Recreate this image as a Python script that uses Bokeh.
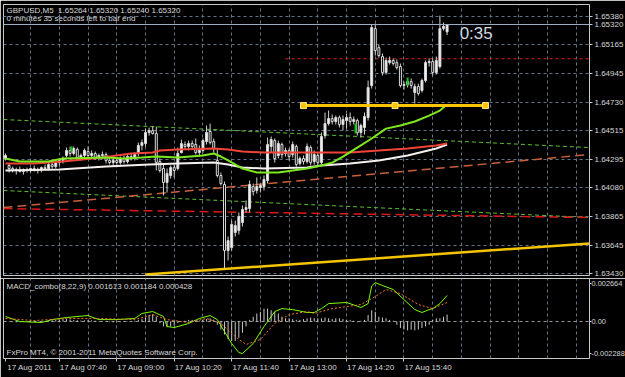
from bokeh.plotting import figure
from bokeh.models import Range1d, FixedTicker, Label, ColumnDataSource, PrintfTickFormatter, Span
from bokeh.layouts import column
from bokeh.embed import file_html
from bokeh.resources import INLINE

# ---------------- data ----------------
symbol = "GBPUSD,M5"
time_ticks = [0, 15, 31, 47, 63, 79, 95, 111]
time_labels = ["17 Aug 2011", "17 Aug 07:40", "17 Aug 09:00", "17 Aug 10:20",
               "17 Aug 11:40", "17 Aug 13:00", "17 Aug 14:20", "17 Aug 15:40"]
price_ticks = [1.63430, 1.63645, 1.63865, 1.64080, 1.64295, 1.64515, 1.64730, 1.64945, 1.65165, 1.65380]
macd_tick_pos = [0.00235, 0, -0.00198]
macd_tick_labels = ["0.002664", "0.00", "-0.002288"]

opens = [
    1.64303, 1.64250, 1.64227, 1.64212, 1.64219, 1.64204, 1.64219, 1.64212, 1.64227, 1.64212,
    1.64219, 1.64234, 1.64227, 1.64257, 1.64242, 1.64272, 1.64288, 1.64326, 1.64364, 1.64341,
    1.64371, 1.64310, 1.64326, 1.64356, 1.64326, 1.64341, 1.64310, 1.64326, 1.64333, 1.64288,
    1.64272, 1.64288, 1.64272, 1.64303, 1.64280, 1.64318, 1.64303, 1.64341, 1.64402, 1.64417,
    1.64500, 1.64515, 1.64493, 1.64280, 1.64227, 1.64121, 1.64174, 1.64234, 1.64227, 1.64348,
    1.64409, 1.64394, 1.64417, 1.64409, 1.64348, 1.64364, 1.64432, 1.64508, 1.64432, 1.64288,
    1.64174, 1.64106, 1.63605, 1.63627, 1.63741, 1.63756, 1.63817, 1.63916, 1.63923, 1.64090,
    1.64060, 1.64083, 1.64090, 1.64136, 1.64394, 1.64439, 1.64326, 1.64409, 1.64341, 1.64364,
    1.64333, 1.64394, 1.64265, 1.64303, 1.64280, 1.64386, 1.64280, 1.64326, 1.64272, 1.64477,
    1.64568, 1.64606, 1.64584, 1.64614, 1.64561, 1.64591, 1.64614, 1.64584, 1.64591, 1.64500,
    1.64538, 1.64614, 1.64857, 1.65289, 1.65145, 1.65077, 1.64956, 1.65031, 1.65047, 1.65031,
    1.65001, 1.64857, 1.64864, 1.64887, 1.64804, 1.64849, 1.64819, 1.64895, 1.65031, 1.65039,
    1.64956, 1.65001, 1.65289, 1.65264]
highs = [
    1.64341, 1.64265, 1.64242, 1.64234, 1.64242, 1.64227, 1.64234, 1.64234, 1.64250, 1.64234,
    1.64242, 1.64257, 1.64272, 1.64280, 1.64288, 1.64303, 1.64318, 1.64386, 1.64394, 1.64394,
    1.64386, 1.64341, 1.64379, 1.64394, 1.64364, 1.64356, 1.64341, 1.64356, 1.64348, 1.64310,
    1.64303, 1.64310, 1.64318, 1.64326, 1.64341, 1.64341, 1.64348, 1.64424, 1.64447, 1.64530,
    1.64538, 1.64546, 1.64546, 1.64303, 1.64265, 1.64227, 1.64250, 1.64257, 1.64386, 1.64447,
    1.64432, 1.64439, 1.64439, 1.64455, 1.64402, 1.64455, 1.64553, 1.64568, 1.64455, 1.64379,
    1.64197, 1.64128, 1.63711, 1.63832, 1.63832, 1.63893, 1.63946, 1.63984, 1.64136, 1.64113,
    1.64159, 1.64113, 1.64174, 1.64462, 1.64470, 1.64455, 1.64439, 1.64424, 1.64386, 1.64379,
    1.64432, 1.64409, 1.64318, 1.64326, 1.64417, 1.64402, 1.64364, 1.64341, 1.64500, 1.64652,
    1.64667, 1.64637, 1.64629, 1.64629, 1.64629, 1.64644, 1.64652, 1.64622, 1.64606, 1.64568,
    1.64652, 1.64895, 1.65320, 1.65327, 1.65168, 1.65100, 1.65069, 1.65077, 1.65062, 1.65054,
    1.65024, 1.64887, 1.64910, 1.64910, 1.64872, 1.64872, 1.64910, 1.65047, 1.65062, 1.65062,
    1.65077, 1.65388, 1.65335, 1.65320]
lows = [
    1.64288, 1.64197, 1.64197, 1.64181, 1.64197, 1.64181, 1.64197, 1.64197, 1.64204, 1.64189,
    1.64197, 1.64212, 1.64212, 1.64227, 1.64227, 1.64250, 1.64265, 1.64310, 1.64318, 1.64326,
    1.64303, 1.64288, 1.64310, 1.64310, 1.64303, 1.64295, 1.64288, 1.64303, 1.64265, 1.64257,
    1.64250, 1.64257, 1.64257, 1.64265, 1.64265, 1.64288, 1.64288, 1.64318, 1.64364, 1.64394,
    1.64477, 1.64485, 1.64212, 1.64197, 1.64022, 1.64045, 1.64151, 1.64159, 1.64212, 1.64341,
    1.64371, 1.64364, 1.64379, 1.64333, 1.64318, 1.64348, 1.64409, 1.64409, 1.64348, 1.64159,
    1.64098, 1.63468, 1.63529, 1.63605, 1.63711, 1.63726, 1.63787, 1.63893, 1.63893, 1.64022,
    1.64037, 1.64045, 1.64060, 1.64113, 1.64348, 1.64272, 1.64303, 1.64303, 1.64318, 1.64288,
    1.64310, 1.64242, 1.64250, 1.64257, 1.64265, 1.64250, 1.64257, 1.64250, 1.64250, 1.64455,
    1.64553, 1.64561, 1.64561, 1.64538, 1.64515, 1.64530, 1.64553, 1.64561, 1.64477, 1.64462,
    1.64485, 1.64591, 1.64834, 1.65085, 1.65069, 1.64933, 1.64940, 1.65016, 1.65009, 1.64978,
    1.64842, 1.64826, 1.64842, 1.64834, 1.64720, 1.64781, 1.64804, 1.64880, 1.65001, 1.64933,
    1.64940, 1.64986, 1.65274, 1.65240]
closes = [
    1.64326, 1.64227, 1.64212, 1.64219, 1.64204, 1.64219, 1.64212, 1.64227, 1.64212, 1.64219,
    1.64234, 1.64227, 1.64257, 1.64242, 1.64272, 1.64288, 1.64303, 1.64364, 1.64341, 1.64379,
    1.64310, 1.64326, 1.64364, 1.64326, 1.64341, 1.64310, 1.64326, 1.64333, 1.64288, 1.64272,
    1.64288, 1.64272, 1.64303, 1.64280, 1.64318, 1.64303, 1.64333, 1.64402, 1.64424, 1.64500,
    1.64515, 1.64493, 1.64272, 1.64212, 1.64121, 1.64189, 1.64234, 1.64212, 1.64341, 1.64417,
    1.64394, 1.64417, 1.64394, 1.64348, 1.64364, 1.64439, 1.64500, 1.64424, 1.64379, 1.64174,
    1.64113, 1.63605, 1.63680, 1.63802, 1.63794, 1.63863, 1.63916, 1.63931, 1.64106, 1.64052,
    1.64090, 1.64098, 1.64143, 1.64409, 1.64447, 1.64303, 1.64417, 1.64333, 1.64364, 1.64318,
    1.64409, 1.64257, 1.64303, 1.64280, 1.64394, 1.64272, 1.64333, 1.64272, 1.64470, 1.64568,
    1.64606, 1.64584, 1.64614, 1.64561, 1.64599, 1.64614, 1.64584, 1.64599, 1.64500, 1.64553,
    1.64622, 1.64842, 1.65297, 1.65123, 1.65085, 1.64956, 1.65047, 1.65047, 1.65024, 1.64993,
    1.64857, 1.64864, 1.64887, 1.64857, 1.64849, 1.64796, 1.64895, 1.65031, 1.65039, 1.64956,
    1.65047, 1.65289, 1.65305, 1.65320]

white_idx = [0, 15, 28, 40, 48, 58, 62, 66, 72, 84, 88, 96, 104, 112, 120, 123]
white_val = [1.64212, 1.64219, 1.64242, 1.64257, 1.64265, 1.64272, 1.64257, 1.64234, 1.64227,
             1.64234, 1.64250, 1.64265, 1.64288, 1.64326, 1.64379, 1.64409]
red_idx = [0, 8, 16, 27, 35, 41, 43, 48, 58, 62, 66, 72, 84, 96, 104, 112, 120, 123]
red_val = [1.64265, 1.64265, 1.64280, 1.64310, 1.64341, 1.64348, 1.64364, 1.64371, 1.64379,
           1.64371, 1.64356, 1.64348, 1.64348, 1.64348, 1.64364, 1.64379, 1.64402, 1.64417]
green_idx = [0, 4, 12, 16, 28, 33, 38, 42, 48, 55, 58, 60, 62, 66, 70, 76, 80, 84, 88, 91,
             94, 98, 102, 106, 110, 114, 118, 121, 123]
green_val = [1.64303, 1.64280, 1.64280, 1.64303, 1.64310, 1.64303, 1.64310, 1.64318, 1.64310,
             1.64326, 1.64341, 1.64318, 1.64288, 1.64227, 1.64197, 1.64197, 1.64212, 1.64227,
             1.64250, 1.64272, 1.64318, 1.64386, 1.64455, 1.64530, 1.64553, 1.64584, 1.64629,
             1.64667, 1.64713]

# trend lines / levels
edge_idx = [-0.56, 162.7]
green_dash_hi = [1.64599, 1.64386]
green_dash_lo = [1.64060, 1.63855]
red_dash_lo = [1.63923, 1.63855]
orange_dash = [1.63931, 1.64333]
yellow_trend_idx = [39, 162.7]
yellow_trend_val = [1.63422, 1.63658]
red_level_idx = [78, 162.7]
red_level_val = [1.65060, 1.65060]
yellow_level_idx = [83, 108.5, 133.7]
yellow_level_val = [1.64705, 1.64705, 1.64705]
arrow_idx = [18.4, 97.5, 112]
arrow_lo = [1.64356, 1.64493, 1.64857]
arrow_hi = [1.64394, 1.64568, 1.64918]
timer_text = "0:35"
timer_idx = 126.5
timer_price = 1.65252

# MACD panel
macd_idx = [0, 4, 10, 13, 17, 23, 26, 31, 36, 38, 41, 44, 45, 47, 51, 54, 57, 59, 61, 63,
            65, 66, 69, 72, 75, 77, 80, 84, 86, 88, 90, 95, 99, 101, 102, 103, 105, 108, 111, 114,
            116, 118, 119, 121, 123]
macd_val = [0.00031, 0.0, -0.00006, 0.00012, 0.00025, 0.00037, 0.00012, 0.00012, 0.00019, 0.0005,
            0.00062, 0.00031, -0.00031, -0.00037, -0.00012, 0.00019, 0.00037, 0.00012, -0.00062, -0.00136,
            -0.00192, -0.00198, -0.00136, -0.00031, 0.00062, 0.0008, 0.00074, 0.00056, 0.00056, 0.0008,
            0.00111, 0.00118, 0.00087, 0.00111, 0.0022, 0.00241, 0.00223, 0.00198, 0.00136, 0.00074,
            0.00056, 0.00074, 0.0008, 0.00111, 0.00161]
signal_idx = [0, 8, 17, 26, 36, 41, 45, 51, 56, 60, 64, 67, 71, 75, 79, 84, 86, 91, 99, 103,
              106, 110, 115, 119, 123]
signal_val = [0.00019, 0.00006, 0.00019, 0.00019, 0.00012, 0.00043, 0.00012, -0.00006, 0.00019, -0.00012,
              -0.00093, -0.00142, -0.00111, -0.00012, 0.00043, 0.00062, 0.0005, 0.0008, 0.00105, 0.00155,
              0.00198, 0.00173, 0.00105, 0.0008, 0.00118]
hist = [
    0.00003, -0.00002, -0.00004, -0.00005, -0.00004, -0.00003, -0.00002, -0.00003, -0.00002, 0.00001,
    0.00002, 0.00003, 0.00006, 0.00008, 0.0001, 0.00012, 0.00015, 0.00015, 0.00012, 0.0001,
    0.00008, 0.00006, 0.00008, 0.0001, 0.00008, 0.00005, 0.00003, 0.00002, -0.00002, -0.00004,
    -0.00005, -0.00005, -0.00004, -0.00003, -0.00002, 0.00002, 0.00005, 0.0001, 0.00015, 0.00025,
    0.0004, 0.00045, 0.0003, -0.0001, -0.0003, -0.00035, -0.0003, -0.00025, -0.0001, 0.0,
    0.00005, 0.0001, 0.0001, 0.00008, 0.00005, 0.0001, 0.00015, 0.0002, 0.00012, -0.0002,
    -0.0005, -0.0008, -0.0011, -0.0012, -0.0012, -0.001, -0.0007, -0.0003, 0.0001, 0.0003,
    0.0005, 0.0006, 0.0008, 0.0008, 0.0007, 0.0006, 0.0005, 0.0003, 0.0002, 0.0002,
    0.00015, 0.0001, 0.0001, 0.00015, 0.0002, 0.00025, 0.0002, 0.0002, 0.0002, 0.00025,
    0.0002, 0.00015, 0.0002, 0.0002, 0.00015, 0.0001, 0.0001, 0.00005, -0.00005, 0.00005,
    0.0001, 0.0004, 0.0007, 0.0006, 0.0003, 0.00025, 0.0002, 0.0001, 0.00005, -0.0002,
    -0.0004, -0.0005, -0.00055, -0.0005, -0.00055, -0.0005, -0.0004, -0.0003, -0.0002, 0.0001,
    0.0002, 0.0002, 0.0003, 0.00043]
macd_name = "MACD_combo(8,22,9)"
macd_last = [0.001613, 0.001184, 0.000428]
credit = "FxPro MT4, \u00a9 2001-2011 MetaQuotes Software Corp."
countdown = "0 minutes 35 seconds left to bar end"

# ---------------- style ----------------
BG = "#000000"
GRID = "#647486"
TXT = "#d8d8d8"
FRAME = "#c8c8c8"
FONT = "Liberation Sans"
X_LO, X_HI = -0.557, 162.67
LABEL_SHIFT = 6.75   # MT4 writes the date to the right of its tick

n = len(opens)
idx = list(range(n))
src = ColumnDataSource(dict(
    x=idx, o=opens, h=highs, l=lows, c=closes,
    top=[max(a, b) for a, b in zip(opens, closes)],
    bot=[min(a, b) for a, b in zip(opens, closes)],
    fill=["#f2f2f2" if c >= o else "#000000" for o, c in zip(opens, closes)],
))

x_range = Range1d(X_LO, X_HI)
grid_ticks = list(range(7, 163, 8))

# ---------------- main price panel ----------------
p = figure(width=625, height=278, frame_width=586, frame_height=271,
           x_range=x_range, y_range=Range1d(1.63415, 1.65472),
           x_axis_location=None, y_axis_location="right",
           output_backend="svg", toolbar_location=None,
           min_border_left=3, min_border_right=36, min_border_top=4, min_border_bottom=3,
           background_fill_color=BG, border_fill_color=BG,
           outline_line_color=FRAME, outline_line_width=1)

p.xgrid.ticker = FixedTicker(ticks=grid_ticks)
p.ygrid.ticker = FixedTicker(ticks=price_ticks)
p.yaxis.ticker = FixedTicker(ticks=price_ticks + [closes[-1]])
p.yaxis.formatter = PrintfTickFormatter(format="%.5f")
for g in (p.xgrid, p.ygrid):
    g.grid_line_color = GRID
    g.grid_line_dash = "3 3"
    g.grid_line_width = 1
ax = p.yaxis[0]
ax.axis_line_color = None
ax.major_tick_out = 3
ax.major_tick_in = 0
ax.major_tick_line_color = FRAME
ax.minor_tick_line_color = None
ax.major_label_standoff = 2
ax.major_label_text_font = FONT
ax.major_label_text_font_size = "8px"
ax.major_label_text_color = TXT

# trend lines and levels
p.line(edge_idx, green_dash_hi, line_color="#5cc02a", line_dash="4 3", line_width=1)
p.line(edge_idx, green_dash_lo, line_color="#5cc02a", line_dash="4 3", line_width=1)
p.line(edge_idx, red_dash_lo, line_color="#d81818", line_dash="9 5", line_width=1.5)
p.line(edge_idx, orange_dash, line_color="#c8603c", line_dash="9 5", line_width=1.5)
p.line(red_level_idx, red_level_val, line_color="#e02020", line_dash="3 3", line_width=1)
p.line(yellow_trend_idx, yellow_trend_val, line_color="#f5c400", line_width=2.5)

# bid line
p.add_layout(Span(location=closes[-1], dimension="width", line_color="#9fb0c0", line_width=1))

# candles
p.segment(x0="x", y0="l", x1="x", y1="h", source=src, line_color="#d0d0d0", line_width=1)
p.vbar(x="x", top="top", bottom="bot", width=0.55, source=src,
       fill_color="fill", line_color="#d8d8d8", line_width=1)

# moving averages
p.line(white_idx, white_val, line_color="#f4f0ee", line_width=2)
p.line(red_idx, red_val, line_color="#f04438", line_width=2)
p.line(green_idx, green_val, line_color="#7ee81e", line_width=2)

# yellow horizontal level with anchor squares
p.line(yellow_level_idx, yellow_level_val, line_color="#ffc400", line_width=3)
p.scatter(yellow_level_idx, yellow_level_val, marker="square", size=6,
          fill_color="#ffc400", line_color="#ffe890", line_width=1)

# green arrows
p.segment(x0=arrow_idx, y0=arrow_lo, x1=arrow_idx, y1=arrow_hi, line_color="#10c010", line_width=2)

# texts
p.add_layout(Label(x=3, y=270, x_units="screen", y_units="screen",
                   text=f"{symbol}\u00a0\u00a0{opens[-1]:.5f} {highs[-1]:.5f} {lows[-1]:.5f} {closes[-1]:.5f}",
                   text_font=FONT, text_font_size="8px", text_color=TXT, text_baseline="top"))
p.add_layout(Label(x=3, y=262, x_units="screen", y_units="screen", text=countdown,
                   text_font=FONT, text_font_size="8px", text_color=TXT, text_baseline="top"))
p.add_layout(Label(x=timer_idx, y=timer_price, text=timer_text, text_font=FONT,
                   text_font_size="17px", text_color="#d0d8e0", text_baseline="alphabetic"))

# ---------------- MACD panel ----------------
q = figure(width=625, height=99, frame_width=586, frame_height=80,
           x_range=x_range, y_range=Range1d(-0.002288, 0.002664),
           y_axis_location="right",
           output_backend="svg", toolbar_location=None,
           min_border_left=3, min_border_right=36, min_border_top=0, min_border_bottom=19,
           background_fill_color=BG, border_fill_color=BG,
           outline_line_color=FRAME, outline_line_width=1)

q.xgrid.ticker = FixedTicker(ticks=grid_ticks)
q.ygrid.ticker = FixedTicker(ticks=[0])
for g in (q.xgrid, q.ygrid):
    g.grid_line_color = GRID
    g.grid_line_dash = "3 3"
q.ygrid.grid_line_color = "#9a9a9a"

yax = q.yaxis[0]
yax.ticker = FixedTicker(ticks=macd_tick_pos)
yax.major_label_overrides = {t: s for t, s in zip(macd_tick_pos, macd_tick_labels)}
yax.axis_line_color = None
yax.major_tick_out = 2
yax.major_tick_in = 0
yax.major_tick_line_color = FRAME
yax.minor_tick_line_color = None
yax.major_label_standoff = 0
yax.major_label_text_font = FONT
yax.major_label_text_font_size = "7.4px"
yax.major_label_text_color = TXT

label_pos = [t + LABEL_SHIFT for t in time_ticks]
xax = q.xaxis[0]
xax.ticker = FixedTicker(ticks=label_pos, minor_ticks=time_ticks)
xax.major_label_overrides = {t: s for t, s in zip(label_pos, time_labels)}
xax.axis_line_color = None
xax.major_tick_out = 3
xax.major_tick_in = 0
xax.major_tick_line_color = None
xax.minor_tick_out = 3
xax.minor_tick_in = 0
xax.minor_tick_line_color = FRAME
xax.major_label_standoff = 1
xax.major_label_text_font = FONT
xax.major_label_text_font_size = "8px"
xax.major_label_text_color = TXT

q.segment(x0=idx, y0=[0] * n, x1=idx, y1=hist, line_color="#c8c8c8", line_width=1)
q.line(macd_idx, macd_val, line_color="#7cfc00", line_width=1)
q.line(signal_idx, signal_val, line_color="#f07a28", line_dash="2 2", line_width=1)

q.add_layout(Label(x=3, y=77, x_units="screen", y_units="screen",
                   text=f"{macd_name} {macd_last[0]:.6f} {macd_last[1]:.6f} {macd_last[2]:.6f}",
                   text_font=FONT, text_font_size="8px", text_color=TXT, text_baseline="top"))
q.add_layout(Label(x=3, y=2, x_units="screen", y_units="screen", text=credit,
                   text_font=FONT, text_font_size="8px", text_color=TXT, text_baseline="bottom"))

layout = column(p, q, spacing=0)
open("out.html", "w").write(file_html(layout, INLINE))
